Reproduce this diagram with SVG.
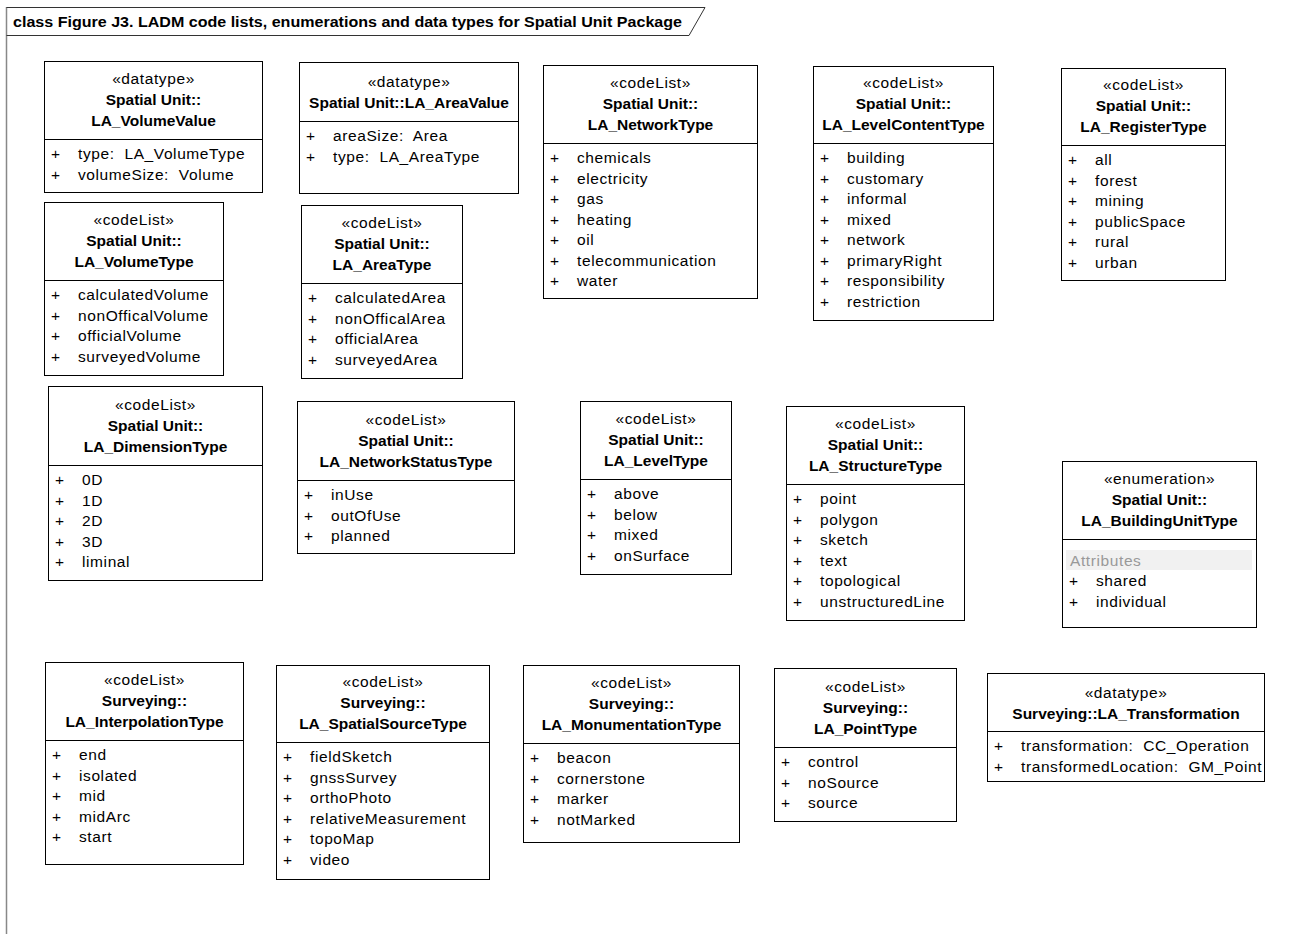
<svg xmlns="http://www.w3.org/2000/svg" width="1296" height="934" viewBox="0 0 1296 934" xml:space="preserve">
<style>
.box{fill:#fff;stroke:#000;stroke-width:1}
.div{stroke:#000;stroke-width:1}
text{font-family:"Liberation Sans",Arial,sans-serif;font-size:15.5px;fill:#000;letter-spacing:0.6px;white-space:pre}
.c{text-anchor:middle}
.b{font-weight:bold;letter-spacing:0}
.hdr{font-weight:bold;font-size:14px;letter-spacing:0}
.grey{fill:#999}
</style>
<rect x="0" y="0" width="1296" height="934" fill="#fff"/>
<g id="frame">
<line x1="6.5" y1="7" x2="6.5" y2="934" stroke="#888" stroke-width="1.5"/>
<path d="M6.5,7.5 H705 L689,35.5 H6.5" fill="none" stroke="#333" stroke-width="1"/>
<text class="hdr" x="13" y="26.5" textLength="669" lengthAdjust="spacingAndGlyphs">class Figure J3. LADM code lists, enumerations and data types for Spatial Unit Package</text>
</g>
<g id="connectors"></g>

<g id="LA_VolumeValue" transform="translate(44,61)">
<rect class="box" x="0.5" y="0.5" width="218" height="131"/>
<line class="div" x1="0.5" y1="78.5" x2="218.5" y2="78.5"/>
<text class="c" x="109.5" y="22.5">«datatype»</text>
<text class="c b" x="109.5" y="43.5">Spatial Unit::</text>
<text class="c b" x="109.5" y="64.5">LA_VolumeValue</text>
<text y="98"><tspan x="7">+</tspan><tspan x="34">type:  LA_VolumeType</tspan></text>
<text y="118.5"><tspan x="7">+</tspan><tspan x="34">volumeSize:  Volume</tspan></text>
</g>

<g id="LA_AreaValue" transform="translate(299,62)">
<rect class="box" x="0.5" y="0.5" width="219" height="131"/>
<line class="div" x1="0.5" y1="59.5" x2="219.5" y2="59.5"/>
<text class="c" x="110" y="24.5">«datatype»</text>
<text class="c b" x="110" y="45.5">Spatial Unit::LA_AreaValue</text>
<text y="79"><tspan x="7">+</tspan><tspan x="34">areaSize:  Area</tspan></text>
<text y="99.5"><tspan x="7">+</tspan><tspan x="34">type:  LA_AreaType</tspan></text>
</g>

<g id="LA_NetworkType" transform="translate(543,65)">
<rect class="box" x="0.5" y="0.5" width="214" height="233"/>
<line class="div" x1="0.5" y1="78.5" x2="214.5" y2="78.5"/>
<text class="c" x="107.5" y="22.5">«codeList»</text>
<text class="c b" x="107.5" y="43.5">Spatial Unit::</text>
<text class="c b" x="107.5" y="64.5">LA_NetworkType</text>
<text y="98"><tspan x="7">+</tspan><tspan x="34">chemicals</tspan></text>
<text y="118.5"><tspan x="7">+</tspan><tspan x="34">electricity</tspan></text>
<text y="139"><tspan x="7">+</tspan><tspan x="34">gas</tspan></text>
<text y="159.5"><tspan x="7">+</tspan><tspan x="34">heating</tspan></text>
<text y="180"><tspan x="7">+</tspan><tspan x="34">oil</tspan></text>
<text y="200.5"><tspan x="7">+</tspan><tspan x="34">telecommunication</tspan></text>
<text y="221"><tspan x="7">+</tspan><tspan x="34">water</tspan></text>
</g>

<g id="LA_LevelContentType" transform="translate(813,66)">
<rect class="box" x="0.5" y="0.5" width="180" height="254"/>
<line class="div" x1="0.5" y1="77.5" x2="180.5" y2="77.5"/>
<text class="c" x="90.5" y="21.5">«codeList»</text>
<text class="c b" x="90.5" y="42.5">Spatial Unit::</text>
<text class="c b" x="90.5" y="63.5">LA_LevelContentType</text>
<text y="97"><tspan x="7">+</tspan><tspan x="34">building</tspan></text>
<text y="117.5"><tspan x="7">+</tspan><tspan x="34">customary</tspan></text>
<text y="138"><tspan x="7">+</tspan><tspan x="34">informal</tspan></text>
<text y="158.5"><tspan x="7">+</tspan><tspan x="34">mixed</tspan></text>
<text y="179"><tspan x="7">+</tspan><tspan x="34">network</tspan></text>
<text y="199.5"><tspan x="7">+</tspan><tspan x="34">primaryRight</tspan></text>
<text y="220"><tspan x="7">+</tspan><tspan x="34">responsibility</tspan></text>
<text y="240.5"><tspan x="7">+</tspan><tspan x="34">restriction</tspan></text>
</g>

<g id="LA_RegisterType" transform="translate(1061,68)">
<rect class="box" x="0.5" y="0.5" width="164" height="212"/>
<line class="div" x1="0.5" y1="77.5" x2="164.5" y2="77.5"/>
<text class="c" x="82.5" y="21.5">«codeList»</text>
<text class="c b" x="82.5" y="42.5">Spatial Unit::</text>
<text class="c b" x="82.5" y="63.5">LA_RegisterType</text>
<text y="97"><tspan x="7">+</tspan><tspan x="34">all</tspan></text>
<text y="117.5"><tspan x="7">+</tspan><tspan x="34">forest</tspan></text>
<text y="138"><tspan x="7">+</tspan><tspan x="34">mining</tspan></text>
<text y="158.5"><tspan x="7">+</tspan><tspan x="34">publicSpace</tspan></text>
<text y="179"><tspan x="7">+</tspan><tspan x="34">rural</tspan></text>
<text y="199.5"><tspan x="7">+</tspan><tspan x="34">urban</tspan></text>
</g>

<g id="LA_VolumeType" transform="translate(44,202)">
<rect class="box" x="0.5" y="0.5" width="179" height="173"/>
<line class="div" x1="0.5" y1="78.5" x2="179.5" y2="78.5"/>
<text class="c" x="90" y="22.5">«codeList»</text>
<text class="c b" x="90" y="43.5">Spatial Unit::</text>
<text class="c b" x="90" y="64.5">LA_VolumeType</text>
<text y="98"><tspan x="7">+</tspan><tspan x="34">calculatedVolume</tspan></text>
<text y="118.5"><tspan x="7">+</tspan><tspan x="34">nonOfficalVolume</tspan></text>
<text y="139"><tspan x="7">+</tspan><tspan x="34">officialVolume</tspan></text>
<text y="159.5"><tspan x="7">+</tspan><tspan x="34">surveyedVolume</tspan></text>
</g>

<g id="LA_AreaType" transform="translate(301,205)">
<rect class="box" x="0.5" y="0.5" width="161" height="173"/>
<line class="div" x1="0.5" y1="78.5" x2="161.5" y2="78.5"/>
<text class="c" x="81" y="22.5">«codeList»</text>
<text class="c b" x="81" y="43.5">Spatial Unit::</text>
<text class="c b" x="81" y="64.5">LA_AreaType</text>
<text y="98"><tspan x="7">+</tspan><tspan x="34">calculatedArea</tspan></text>
<text y="118.5"><tspan x="7">+</tspan><tspan x="34">nonOfficalArea</tspan></text>
<text y="139"><tspan x="7">+</tspan><tspan x="34">officialArea</tspan></text>
<text y="159.5"><tspan x="7">+</tspan><tspan x="34">surveyedArea</tspan></text>
</g>

<g id="LA_DimensionType" transform="translate(48,386)">
<rect class="box" x="0.5" y="0.5" width="214" height="194"/>
<line class="div" x1="0.5" y1="79.5" x2="214.5" y2="79.5"/>
<text class="c" x="107.5" y="23.5">«codeList»</text>
<text class="c b" x="107.5" y="44.5">Spatial Unit::</text>
<text class="c b" x="107.5" y="65.5">LA_DimensionType</text>
<text y="99"><tspan x="7">+</tspan><tspan x="34">0D</tspan></text>
<text y="119.5"><tspan x="7">+</tspan><tspan x="34">1D</tspan></text>
<text y="140"><tspan x="7">+</tspan><tspan x="34">2D</tspan></text>
<text y="160.5"><tspan x="7">+</tspan><tspan x="34">3D</tspan></text>
<text y="181"><tspan x="7">+</tspan><tspan x="34">liminal</tspan></text>
</g>

<g id="LA_NetworkStatusType" transform="translate(297,401)">
<rect class="box" x="0.5" y="0.5" width="217" height="152"/>
<line class="div" x1="0.5" y1="79.5" x2="217.5" y2="79.5"/>
<text class="c" x="109" y="23.5">«codeList»</text>
<text class="c b" x="109" y="44.5">Spatial Unit::</text>
<text class="c b" x="109" y="65.5">LA_NetworkStatusType</text>
<text y="99"><tspan x="7">+</tspan><tspan x="34">inUse</tspan></text>
<text y="119.5"><tspan x="7">+</tspan><tspan x="34">outOfUse</tspan></text>
<text y="140"><tspan x="7">+</tspan><tspan x="34">planned</tspan></text>
</g>

<g id="LA_LevelType" transform="translate(580,401)">
<rect class="box" x="0.5" y="0.5" width="151" height="173"/>
<line class="div" x1="0.5" y1="78.5" x2="151.5" y2="78.5"/>
<text class="c" x="76" y="22.5">«codeList»</text>
<text class="c b" x="76" y="43.5">Spatial Unit::</text>
<text class="c b" x="76" y="64.5">LA_LevelType</text>
<text y="98"><tspan x="7">+</tspan><tspan x="34">above</tspan></text>
<text y="118.5"><tspan x="7">+</tspan><tspan x="34">below</tspan></text>
<text y="139"><tspan x="7">+</tspan><tspan x="34">mixed</tspan></text>
<text y="159.5"><tspan x="7">+</tspan><tspan x="34">onSurface</tspan></text>
</g>

<g id="LA_StructureType" transform="translate(786,406)">
<rect class="box" x="0.5" y="0.5" width="178" height="214"/>
<line class="div" x1="0.5" y1="78.5" x2="178.5" y2="78.5"/>
<text class="c" x="89.5" y="22.5">«codeList»</text>
<text class="c b" x="89.5" y="43.5">Spatial Unit::</text>
<text class="c b" x="89.5" y="64.5">LA_StructureType</text>
<text y="98"><tspan x="7">+</tspan><tspan x="34">point</tspan></text>
<text y="118.5"><tspan x="7">+</tspan><tspan x="34">polygon</tspan></text>
<text y="139"><tspan x="7">+</tspan><tspan x="34">sketch</tspan></text>
<text y="159.5"><tspan x="7">+</tspan><tspan x="34">text</tspan></text>
<text y="180"><tspan x="7">+</tspan><tspan x="34">topological</tspan></text>
<text y="200.5"><tspan x="7">+</tspan><tspan x="34">unstructuredLine</tspan></text>
</g>

<g id="LA_BuildingUnitType" transform="translate(1062,461)">
<rect class="box" x="0.5" y="0.5" width="194" height="166"/>
<line class="div" x1="0.5" y1="78.5" x2="194.5" y2="78.5"/>
<text class="c" x="97.5" y="22.5">«enumeration»</text>
<text class="c b" x="97.5" y="43.5">Spatial Unit::</text>
<text class="c b" x="97.5" y="64.5">LA_BuildingUnitType</text>
<rect x="4" y="89" width="186" height="20" fill="#f1f1f1"/>
<text class="grey" x="8" y="104.5">Attributes</text>
<text y="125"><tspan x="7">+</tspan><tspan x="34">shared</tspan></text>
<text y="145.5"><tspan x="7">+</tspan><tspan x="34">individual</tspan></text>
</g>

<g id="LA_InterpolationType" transform="translate(45,662)">
<rect class="box" x="0.5" y="0.5" width="198" height="202"/>
<line class="div" x1="0.5" y1="78.5" x2="198.5" y2="78.5"/>
<text class="c" x="99.5" y="22.5">«codeList»</text>
<text class="c b" x="99.5" y="43.5">Surveying::</text>
<text class="c b" x="99.5" y="64.5">LA_InterpolationType</text>
<text y="98"><tspan x="7">+</tspan><tspan x="34">end</tspan></text>
<text y="118.5"><tspan x="7">+</tspan><tspan x="34">isolated</tspan></text>
<text y="139"><tspan x="7">+</tspan><tspan x="34">mid</tspan></text>
<text y="159.5"><tspan x="7">+</tspan><tspan x="34">midArc</tspan></text>
<text y="180"><tspan x="7">+</tspan><tspan x="34">start</tspan></text>
</g>

<g id="LA_SpatialSourceType" transform="translate(276,665)">
<rect class="box" x="0.5" y="0.5" width="213" height="214"/>
<line class="div" x1="0.5" y1="77.5" x2="213.5" y2="77.5"/>
<text class="c" x="107" y="21.5">«codeList»</text>
<text class="c b" x="107" y="42.5">Surveying::</text>
<text class="c b" x="107" y="63.5">LA_SpatialSourceType</text>
<text y="97"><tspan x="7">+</tspan><tspan x="34">fieldSketch</tspan></text>
<text y="117.5"><tspan x="7">+</tspan><tspan x="34">gnssSurvey</tspan></text>
<text y="138"><tspan x="7">+</tspan><tspan x="34">orthoPhoto</tspan></text>
<text y="158.5"><tspan x="7">+</tspan><tspan x="34">relativeMeasurement</tspan></text>
<text y="179"><tspan x="7">+</tspan><tspan x="34">topoMap</tspan></text>
<text y="199.5"><tspan x="7">+</tspan><tspan x="34">video</tspan></text>
</g>

<g id="LA_MonumentationType" transform="translate(523,665)">
<rect class="box" x="0.5" y="0.5" width="216" height="177"/>
<line class="div" x1="0.5" y1="78.5" x2="216.5" y2="78.5"/>
<text class="c" x="108.5" y="22.5">«codeList»</text>
<text class="c b" x="108.5" y="43.5">Surveying::</text>
<text class="c b" x="108.5" y="64.5">LA_MonumentationType</text>
<text y="98"><tspan x="7">+</tspan><tspan x="34">beacon</tspan></text>
<text y="118.5"><tspan x="7">+</tspan><tspan x="34">cornerstone</tspan></text>
<text y="139"><tspan x="7">+</tspan><tspan x="34">marker</tspan></text>
<text y="159.5"><tspan x="7">+</tspan><tspan x="34">notMarked</tspan></text>
</g>

<g id="LA_PointType" transform="translate(774,668)">
<rect class="box" x="0.5" y="0.5" width="182" height="153"/>
<line class="div" x1="0.5" y1="79.5" x2="182.5" y2="79.5"/>
<text class="c" x="91.5" y="23.5">«codeList»</text>
<text class="c b" x="91.5" y="44.5">Surveying::</text>
<text class="c b" x="91.5" y="65.5">LA_PointType</text>
<text y="99"><tspan x="7">+</tspan><tspan x="34">control</tspan></text>
<text y="119.5"><tspan x="7">+</tspan><tspan x="34">noSource</tspan></text>
<text y="140"><tspan x="7">+</tspan><tspan x="34">source</tspan></text>
</g>

<g id="LA_Transformation" transform="translate(987,673)">
<rect class="box" x="0.5" y="0.5" width="277" height="108"/>
<line class="div" x1="0.5" y1="58.5" x2="277.5" y2="58.5"/>
<text class="c" x="139" y="24.5">«datatype»</text>
<text class="c b" x="139" y="45.5">Surveying::LA_Transformation</text>
<text y="78"><tspan x="7">+</tspan><tspan x="34">transformation:  CC_Operation</tspan></text>
<text y="98.5"><tspan x="7">+</tspan><tspan x="34">transformedLocation:  GM_Point</tspan></text>
</g>
</svg>
